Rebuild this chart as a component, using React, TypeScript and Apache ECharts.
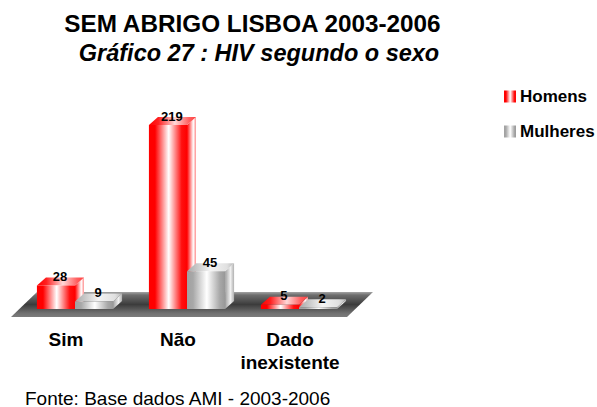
import React, { useEffect, useRef } from "react";
import * as echarts from "echarts";

const categories = ["Sim", "Não", "Dado\ninexistente"];
const homens = [28, 219, 5];
const mulheres = [9, 45, 2];
const titleLine1 = "SEM ABRIGO LISBOA 2003-2006";
const titleLine2 = "Gráfico 27 : HIV segundo o sexo";
const source = "Fonte: Base dados AMI - 2003-2006";

const FONT = "'Liberation Sans', Arial, sans-serif";
const DEPTH_X = 9;
const DEPTH_Y = 8;

const grad = (stops: [number, string][]) =>
  new echarts.graphic.LinearGradient(0, 0, 1, 0, stops.map(([offset, color]) => ({ offset, color })));

const palette = {
  red: {
    front: () => grad([[0, "#ff0000"], [0.16, "#ff0000"], [0.52, "#ffffff"], [0.86, "#ff1010"], [1, "#ff0000"]]),
    top: () => grad([[0, "#ff0000"], [0.2, "#ff2020"], [0.55, "#ffd8d8"], [0.85, "#ff6060"], [1, "#ff4040"]]),
    side: () => grad([[0, "#ff0000"], [0.4, "#ff9090"], [0.7, "#ffffff"], [1, "#ff9090"]]),
  },
  gray: {
    front: () => grad([[0, "#a0a0a0"], [0.16, "#a8a8a8"], [0.52, "#ffffff"], [0.86, "#a8a8a8"], [1, "#989898"]]),
    top: () => grad([[0, "#a8a8a8"], [0.5, "#f4f4f4"], [0.85, "#e0e0e0"], [1, "#b8b8b8"]]),
    side: () => grad([[0, "#a0a0a0"], [0.6, "#f0f0f0"], [1, "#b0b0b0"]]),
  },
};

function makeRender(offsetDir: number, colors: typeof palette.red) {
  return (_p: any, api: any) => {
    const idx = api.value(0);
    const val = api.value(1);
    const [cx, yTop] = api.coord([idx, val]);
    const [, y0] = api.coord([idx, 0]);
    const w = api.size([1, 0])[0] * 0.34;
    const x0 = offsetDir < 0 ? cx - w : cx;
    const x1 = x0 + w;
    return {
      type: "group",
      children: [
        { type: "polygon", shape: { points: [[x1, yTop], [x1 + DEPTH_X, yTop - DEPTH_Y], [x1 + DEPTH_X, y0 - DEPTH_Y], [x1, y0]] }, style: { fill: colors.side() } },
        { type: "polygon", shape: { points: [[x0, yTop], [x0 + DEPTH_X, yTop - DEPTH_Y], [x1 + DEPTH_X, yTop - DEPTH_Y], [x1, yTop]] }, style: { fill: colors.top() } },
        { type: "rect", shape: { x: x0, y: yTop, width: w, height: y0 - yTop }, style: { fill: colors.front() } },
        {
          type: "text",
          x: (x0 + x1) / 2 + 4,
          y: yTop - 9,
          z2: 10,
          style: { text: String(val), font: `bold 13px ${FONT}`, fill: "#000", align: "center", verticalAlign: "middle" },
        },
      ],
    };
  };
}

export default function App() {
  const ref = useRef<HTMLDivElement>(null);
  useEffect(() => {
    const chart = echarts.init(ref.current!, undefined, { renderer: "svg" });
    chart.setOption({
      animation: false,
      backgroundColor: "#fff",
      textStyle: { fontFamily: FONT },
      grid: { left: 19, width: 336, top: 99, height: 210 },
      xAxis: {
        type: "category",
        data: categories,
        axisLine: { show: false },
        axisTick: { show: false },
        axisLabel: {
          interval: 0,
          margin: 19,
          padding: [0, 18, 0, 0],
          fontFamily: FONT,
          fontSize: 19,
          fontWeight: "bold",
          lineHeight: 23,
          color: "#000",
        },
      },
      yAxis: { type: "value", min: 0, max: 250, show: false },
      legend: {
        orient: "vertical",
        left: 499,
        top: 83,
        itemWidth: 12,
        itemHeight: 12,
        itemGap: 18,
        selectedMode: false,
        icon: "rect",
        textStyle: { fontFamily: FONT, fontSize: 17, fontWeight: "bold", color: "#000", padding: [0, 0, 0, -1] },
        data: ["Homens", "Mulheres"],
      },
      graphic: [
        {
          type: "polygon",
          z: 0,
          shape: { points: [[11, 317], [37, 292], [373, 292], [347, 317]] },
          style: {
            fill: new echarts.graphic.LinearGradient(0, 0, 0, 1, [
              { offset: 0, color: "#a4a4a4" },
              { offset: 0.12, color: "#6e6e6e" },
              { offset: 0.5, color: "#3c3c3c" },
              { offset: 0.85, color: "#707070" },
              { offset: 1, color: "#7c7c7c" },
            ]),
          },
        },
        { type: "text", z: 5, x: 252.5, y: 23, style: { text: titleLine1, font: `bold 24.3px ${FONT}`, fill: "#000", align: "center", verticalAlign: "middle" } },
        { type: "text", z: 5, x: 259, y: 53, style: { text: titleLine2, font: `italic bold 23.5px ${FONT}`, fill: "#000", align: "center", verticalAlign: "middle" } },
        { type: "text", z: 5, x: 25, y: 398, style: { text: source, font: `19px ${FONT}`, fill: "#000", verticalAlign: "middle" } },
      ],
      series: [
        {
          name: "Homens",
          type: "custom",
          z: 3,
          clip: false,
          coordinateSystem: "cartesian2d",
          encode: { x: 0, y: 1 },
          itemStyle: { color: palette.red.front() },
          data: homens.map((v, i) => [i, v]),
          renderItem: makeRender(-1, palette.red),
        },
        {
          name: "Mulheres",
          type: "custom",
          z: 4,
          clip: false,
          coordinateSystem: "cartesian2d",
          encode: { x: 0, y: 1 },
          itemStyle: { color: palette.gray.front() },
          data: mulheres.map((v, i) => [i, v]),
          renderItem: makeRender(1, palette.gray),
        },
      ],
    });
    return () => chart.dispose();
  }, []);
  return <div ref={ref} style={{ position: "absolute", left: 0, top: 0, width: 597, height: 407 }} />;
}
